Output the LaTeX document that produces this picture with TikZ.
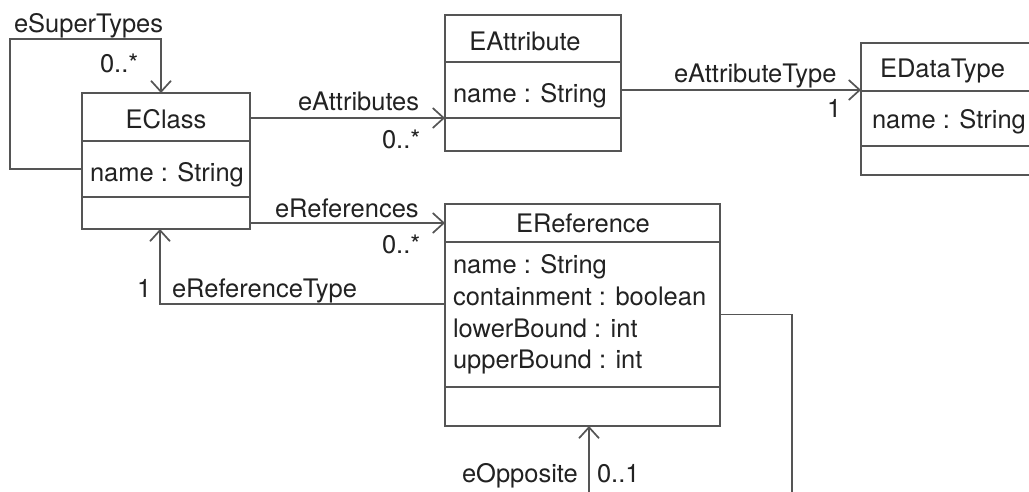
\documentclass[tikz,border=0pt]{standalone}
\usepackage{fontspec}
\setmainfont{TeX Gyre Heros}
\usetikzlibrary{arrows.meta}
\definecolor{linegray}{RGB}{85,85,85}
\definecolor{inkgray}{RGB}{34,34,34}
\tikzset{
  comp/.style 2 args={draw=linegray, line width=1.7pt, inner sep=0pt, outer sep=0pt,
    anchor=north west, minimum width=#1pt, minimum height=#2pt},
  txt/.style={inner sep=0pt, outer sep=0pt, text=inkgray,
    font=\fontsize{25.5}{31.7}\selectfont},
  assoc/.style={draw=linegray, line width=1.7pt,
    -{Straight Barb[length=11pt,width=20pt]}},
}
\begin{document}
\begin{tikzpicture}[x=1pt, y=-1pt]
  \useasboundingbox (0,0) rectangle (1029,491);
  \fill[white] (0,0) rectangle (1029,491);
  \clip (0,0) rectangle (1029,491);

  % EClass
  \node[comp={168}{48}] (eclass-title) at (82,93) {};
  \node[comp={168}{56}] (eclass-attrs) at (82,141) {};
  \node[comp={168}{32}] (eclass-ops) at (82,197) {};
  \node[txt, anchor=base] (eclass-name) at (166,128) {EClass};
  \node[txt, anchor=base west] (eclass-a1) at (90,181) {name : String};

  % EAttribute
  \node[comp={176}{47}] (eattr-title) at (445,15) {};
  \node[comp={176}{56}] (eattr-attrs) at (445,62) {};
  \node[comp={176}{33}] (eattr-ops) at (445,118) {};
  \node[txt, anchor=base] (eattr-name) at (525,50) {EAttribute};
  \node[txt, anchor=base west] (eattr-a1) at (453,102) {name : String};

  % EDataType
  \node[comp={180}{48}] (edt-title) at (861,43) {};
  \node[comp={180}{55}] (edt-attrs) at (861,91) {};
  \node[comp={180}{29}] (edt-ops) at (861,146) {};
  \node[txt, anchor=base west] (edt-name) at (880,77) {EDataType};
  \node[txt, anchor=base west] (edt-a1) at (872,128) {name : String};

  % EReference
  \node[comp={275}{38}] (eref-title) at (445,204) {};
  \node[comp={275}{145}] (eref-attrs) at (445,242) {};
  \node[comp={275}{39}] (eref-ops) at (445,387) {};
  \node[txt, anchor=base] (eref-name) at (583,232) {EReference};
  \node[txt, anchor=base west] (eref-a1) at (453,273) {name : String};
  \node[txt, anchor=base west] (eref-a2) at (453,305) {containment : boolean};
  \node[txt, anchor=base west] (eref-a3) at (453,337) {lowerBound : int};
  \node[txt, anchor=base west] (eref-a4) at (453,368) {upperBound : int};

  % eSuperTypes (EClass to itself)
  \coordinate (st-corner) at (10,39);
  \draw[assoc] (eclass-attrs.west) -| (st-corner) -| ([xshift=-5pt]eclass-title.north);
  \node[txt, anchor=base west] (st-lbl) at (14,32) {eSuperTypes};
  \node[txt, anchor=base west] (st-mult) at (100,72) {0..*};

  % eAttributes
  \draw[assoc] (eclass-attrs.east |- eattr-ops.north west) -- (eattr-ops.north west);
  \node[txt, anchor=base west] (ea-lbl) at (298,110) {eAttributes};
  \node[txt, anchor=base west] (ea-mult) at (382,148) {0..*};

  % eAttributeType
  \draw[assoc] (eattr-attrs.east) -- (eattr-attrs.east -| edt-attrs.west);
  \node[txt, anchor=base west] (eat-lbl) at (674,82) {eAttributeType};
  \node[txt, anchor=base west] (eat-mult) at (827,117) {1};

  % eReferences
  \draw[assoc] (eclass-ops.east |- eref-title.west) -- (eref-title.west);
  \node[txt, anchor=base west] (er-lbl) at (275,217) {eReferences};
  \node[txt, anchor=base west] (er-mult) at (382,253) {0..*};

  % eReferenceType
  \draw[assoc] ([yshift=10.5pt]eref-attrs.west) -| ([xshift=-6pt]eclass-ops.south);
  \node[txt, anchor=base west] (ert-lbl) at (172,297) {eReferenceType};
  \node[txt, anchor=base west] (ert-mult) at (137,297) {1};

  % eOpposite (EReference to itself, running below the frame)
  \coordinate (op-corner) at (792,530);
  \draw[assoc] (eref-attrs.east) -| (op-corner) -| ([xshift=6.5pt]eref-ops.south);
  \node[txt, anchor=base west] (op-lbl) at (462,482) {eOpposite};
  \node[txt, anchor=base west] (op-mult) at (597,482) {0..1};
\end{tikzpicture}
\end{document}
